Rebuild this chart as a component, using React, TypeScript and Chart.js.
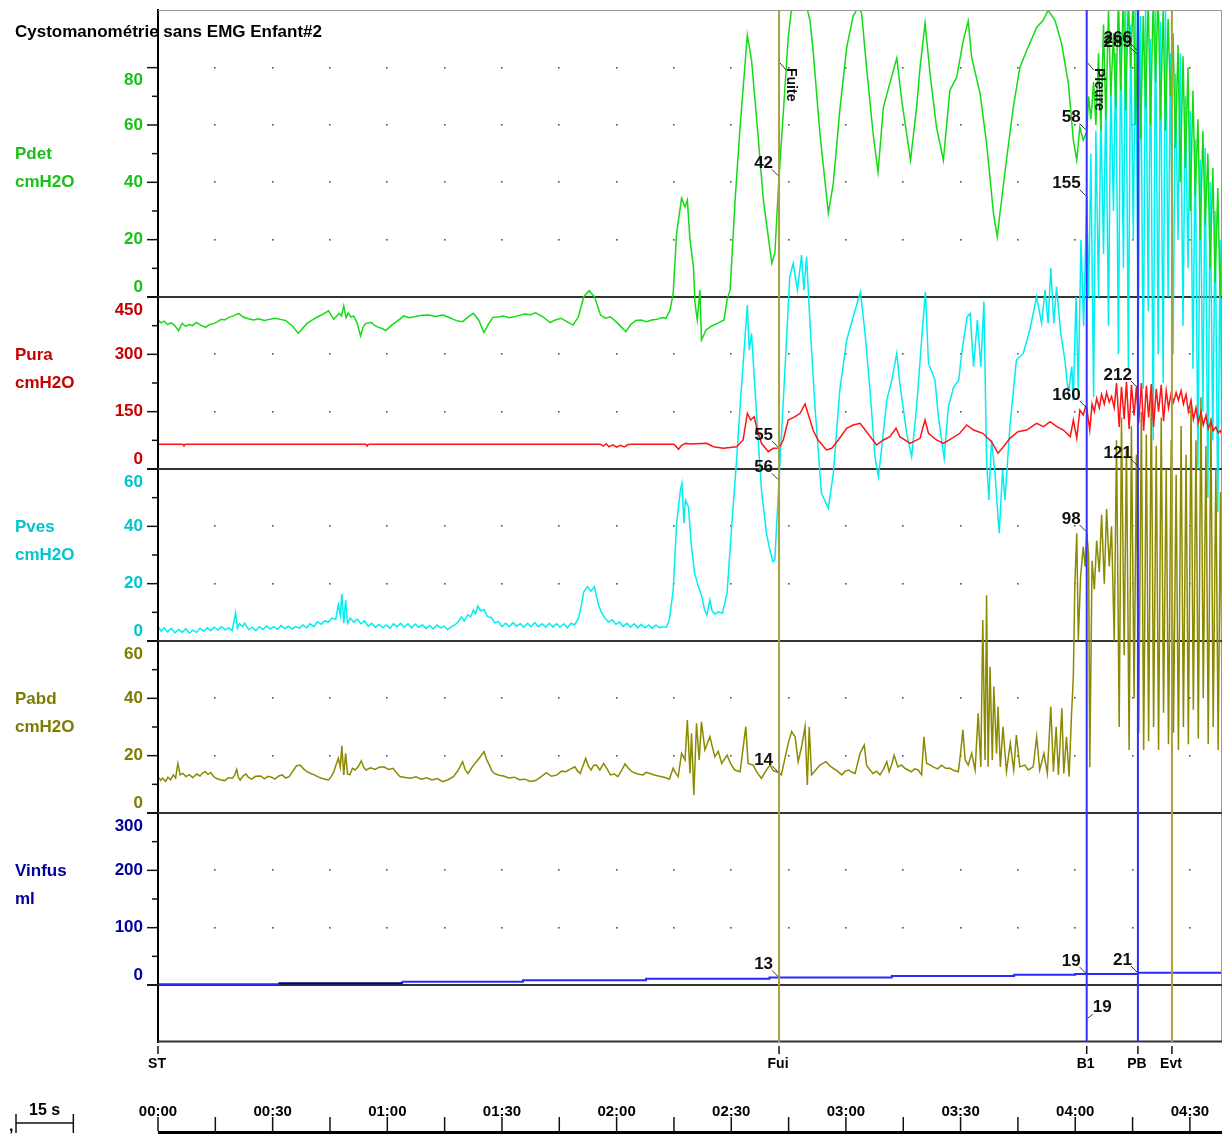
import { useEffect, useRef } from 'react';
import { Chart, registerables } from 'chart.js';

Chart.register(...registerables);

const FONT = '"Liberation Sans", Arial, Helvetica, sans-serif';

// ---------------- texts / categories ----------------
const TITLE = 'Cystomanométrie sans EMG Enfant#2';
const T_MAX = 278.4; // seconds shown

const CHANNEL_NAMES = ['Pdet', 'Pura', 'Pves', 'Pabd', 'Vinfus'];
const CHANNEL_UNITS = ['cmH2O', 'cmH2O', 'cmH2O', 'cmH2O', 'ml'];

// axis ranges
const PDET_RANGE = [0, 100.1];
const PURA_RANGE = [0, 450];
const PVES_RANGE = [0, 60];
const PABD_RANGE = [0, 60];
const VINFUS_RANGE = [0, 300];

// axis tick labels and minor ticks
const PDET_TICKS = [0, 20, 40, 60, 80];
const PDET_MINOR = [10, 30, 50, 70];
const PURA_TICKS = [0, 150, 300, 450];
const PURA_MINOR = [75, 225, 375];
const PVES_TICKS = [0, 20, 40, 60];
const PVES_MINOR = [10, 30, 50];
const PABD_TICKS = [0, 20, 40, 60];
const PABD_MINOR = [10, 30, 50];
const VINFUS_TICKS = [0, 100, 200, 300];
const VINFUS_MINOR = [50, 150, 250];

// events
const EVENT_NAMES = ['ST', 'Fui', 'B1', 'PB', 'Evt'];
const EVENT_TIMES = [0, 162.5, 243.0, 256.4, 265.3];
const EVENT_NOTES = [['Fuite', 1], ['Pleure', 2]];

// time ruler
const TIME_LABELS = ['00:00', '00:30', '01:00', '01:30', '02:00', '02:30', '03:00', '03:30', '04:00', '04:30'];
const TIME_LABEL_SECONDS = [0, 30, 60, 90, 120, 150, 180, 210, 240, 270];
const TIME_TICK_SECONDS = [0, 15, 30, 45, 60, 75, 90, 105, 120, 135, 150, 165, 180, 195, 210, 225, 240, 255, 270];
const SCALE_BAR_SECONDS = 15;
const SCALE_BAR_LABEL = '15 s';

// value read-outs at the events: [text, event index, channel index, value]
const READOUTS = [
  ['42', 1, 0, 42], ['55', 1, 1, 55], ['56', 1, 2, 56], ['14', 1, 3, 14], ['13', 1, 4, 13],
  ['58', 2, 0, 58], ['160', 2, 1, 160], ['155', 2, 2, 155], ['98', 2, 3, 98], ['19', 2, 4, 19],
  ['266', 3, 0, 266], ['289', 3, 2, 289], ['212', 3, 1, 212], ['121', 3, 3, 121], ['21', 3, 4, 21],
];
const STRIP_READOUT = ['19', 2, 0.4];

// ---------------- series: [seconds, value] ----------------
const PDET = [
  [0, -8.0], [0.8, -9.0], [1.6, -8.4], [2.5, -9.6], [3.5, -9.0], [4.4, -10.0], [5.4, -11.7], [6.3, -9.2], [7.2, -10.2],
  [8.2, -9.6], [9.1, -10.0], [10.0, -8.9], [11.2, -9.8], [12.4, -10.6], [13.5, -9.6], [14.7, -9.2], [15.6, -8.6],
  [16.6, -7.8], [17.5, -8.0], [18.5, -7.1], [19.8, -6.6], [21.1, -5.7], [22.2, -6.9], [23.6, -7.6], [25.0, -8.0],
  [26.4, -7.6], [27.8, -8.2], [29.2, -7.8], [30.6, -7.4], [32.0, -7.8], [33.4, -8.2], [35.3, -10.3], [36.7, -12.7],
  [37.8, -11.0], [39.0, -9.2], [40.4, -8.0], [41.8, -6.9], [43.2, -6.0], [44.6, -4.8], [46.0, -7.8], [47.4, -5.7],
  [48.0, -6.6], [48.6, -3.1], [49.2, -7.2], [49.8, -5.6], [50.5, -7.0], [51.2, -6.6], [52.1, -9.0], [53.0, -13.6],
  [53.7, -10.4], [54.4, -9.2], [55.8, -8.9], [56.8, -10.0], [57.7, -10.6], [58.7, -11.0], [59.6, -11.7], [61.0, -10.0],
  [62.4, -8.6], [63.4, -7.6], [64.3, -6.6], [65.7, -7.2], [67.1, -6.9], [69.0, -6.4], [70.8, -6.3], [72.6, -6.8],
  [74.5, -6.3], [75.9, -7.0], [77.3, -7.8], [78.5, -8.4], [79.7, -8.6], [81.1, -7.0], [82.5, -5.7], [83.9, -8.0],
  [85.3, -12.4], [86.5, -9.4], [87.6, -7.1], [89.0, -7.0], [90.4, -6.6], [91.8, -7.2], [93.2, -6.9], [94.6, -6.4],
  [96.0, -5.9], [97.4, -6.2], [98.8, -5.5], [100.7, -6.9], [102.6, -8.9], [104.0, -8.0], [105.4, -7.4], [107.0, -8.6],
  [108.6, -9.8], [110.0, -6.9], [111.4, 0.1], [112.8, 2.2], [114.2, 0.1], [115.8, -6.3], [117.1, -7.4], [118.4, -6.9],
  [120.3, -9.2], [121.3, -10.6], [122.4, -12.1], [123.7, -9.6], [125.0, -8.2], [126.4, -8.0], [127.8, -8.6],
  [129.2, -8.0], [130.6, -7.8], [132.0, -7.2], [132.9, -7.4], [134.0, -4.5], [134.8, 1.3], [135.7, 22.3],
  [137.0, 34.5], [137.9, 31.4], [138.5, 33.8], [139.2, 19.9], [140.1, 10.5], [140.5, -2.1], [141.1, -8.0],
  [141.8, 2.4], [142.2, -15.0], [143.4, -11.5], [144.9, -10.1], [146.5, -9.1], [148.1, -8.0], [148.9, -1.0],
  [149.7, 2.4], [151.0, 33.8], [152.3, 59.2], [154.2, 91.3], [155.3, 82.6], [156.6, 62.7], [158.4, 33.8],
  [160.6, 11.8], [161.4, 15.3], [162.5, 42], [163.6, 64], [164.9, 90.6], [165.8, 101], [167, 106], [169, 105],
  [170.6, 96.5], [171.4, 86], [173.2, 57], [175.4, 29.2], [176.7, 39.7], [178.4, 65.2], [180.2, 87.1], [181.9, 98],
  [183.2, 101], [184.1, 99], [185.4, 80.1], [187.1, 57.1], [188.4, 43.6], [189.8, 66.2], [191.5, 74.6], [193.3, 83.3],
  [194.6, 68.6], [196.9, 47.7], [198.5, 66.2], [199.4, 80.1], [200.7, 95.5], [202.0, 78], [203.7, 59.2],
  [205.5, 47.7], [207.2, 72.1], [209.0, 76.7], [210.7, 89.5], [212.0, 96.2], [212.9, 83.6], [215.1, 71],
  [216.8, 53.6], [218.6, 29.2], [219.6, 21], [220.3, 29.2], [222.0, 47.7], [223.8, 66.2], [225.5, 80.1], [227.3, 86],
  [229.9, 94], [231.6, 96.5], [232.9, 100], [234.7, 96.5], [236.4, 88.5], [238.2, 74.6], [239.5, 54.7], [240.4, 47.7],
  [241.2, 59.2], [242.1, 54.7], [243.0, 57.5],
  [243.5, 70], [244.1, 62], [244.8, 75], [245.4, 60], [246.1, 85], [246.7, 58], [247.4, 95], [248.0, 62], [248.7, 100],
  [249.3, 70], [250.0, 92], [250.6, 66], [251.3, 104], [251.9, 72], [252.6, 106], [253.2, 65], [253.9, 104],
  [254.5, 80], [255.2, 106], [255.8, 60], [256.5, 103], [257.1, 55], [257.8, 98], [258.4, 66], [259.1, 105],
  [259.7, 60], [260.4, 104], [261.0, 75], [261.7, 106], [262.3, 62], [263.0, 100], [263.6, 58], [264.3, 97],
  [264.9, 70], [265.6, 92], [266.2, 52], [266.9, 88], [267.5, 40], [268.2, 84], [268.8, 45], [269.5, 80], [270.1, 30],
  [270.8, 72], [271.4, 35], [272.1, 62], [272.7, 20], [273.4, 58], [274.0, 25], [274.7, 50], [275.3, 10], [276.0, 45],
  [276.6, 5], [277.3, 38], [277.9, 0], [278.4, 22],
];

const PURA = [
  [0, 65], [6.5, 65], [6.8, 60], [7.1, 65], [54.4, 65], [54.7, 60], [55.0, 64], [55.3, 65], [115.8, 65], [116.5, 60],
  [117.3, 66], [118.0, 58], [119.0, 63], [120.0, 57], [121.0, 62], [122.0, 58], [123.0, 64], [124.0, 65], [135.0, 65],
  [136.2, 51.5], [137.0, 62], [138.1, 67], [139.2, 65.4], [143.6, 67.2], [145.3, 58.3], [147.9, 54.1], [151.4, 58.3],
  [153.1, 75.9], [154.2, 145.7], [155.1, 128.2], [156.0, 136.8], [156.6, 110.7], [157.9, 67.2], [159.7, 45.3],
  [161.0, 54.1], [162.5, 55], [163.6, 75.9], [164.9, 128.2], [166.7, 136.8], [168.0, 145.7], [169.3, 170.1],
  [170.2, 141.3], [171.4, 102.0], [172.7, 75.9], [174.9, 49.7], [176.3, 54.1], [178.0, 75.9], [180.2, 106.5],
  [181.9, 115.1], [183.7, 119.6], [185.4, 97.6], [188.0, 62.8], [189.8, 75.9], [191.5, 84.5], [193.1, 106.5],
  [194.1, 84.5], [196.8, 67.2], [199.4, 80.3], [200.7, 128.2], [201.6, 93.4], [203.7, 75.9], [205.5, 67.2],
  [207.7, 80.3], [209.8, 93.4], [211.6, 115.1], [213.4, 102.0], [215.8, 93.4], [218.1, 71.4], [219.8, 41.1],
  [221.2, 58.3], [222.9, 80.3], [225.0, 97.6], [227.3, 102.0], [229.9, 119.6], [231.7, 110.7], [233.4, 123.8],
  [235.2, 110.7], [236.9, 102.0], [238.7, 84.5], [239.5, 128.2], [240.4, 80.3], [241.2, 154.4], [242.1, 141.3],
  [242.7, 163], [243.0, 160],
  [243.8, 102], [244.4, 170], [245.0, 150], [245.6, 185], [246.3, 160], [246.9, 195], [247.6, 170], [248.2, 200],
  [248.9, 175], [249.5, 190], [250.2, 160], [250.8, 225], [251.5, 110], [252.1, 215], [252.8, 130], [253.4, 228],
  [254.1, 105], [254.7, 220], [255.4, 140], [256.0, 215], [256.6, 120], [257.3, 225], [257.9, 100], [258.6, 218],
  [259.2, 135], [259.9, 222], [260.5, 110], [261.2, 210], [261.8, 150], [262.5, 220], [263.1, 125], [263.8, 205],
  [264.4, 160], [265.1, 198], [265.7, 175], [266.4, 200], [267.0, 180], [267.7, 205], [268.3, 170], [269.0, 195],
  [269.6, 150], [270.3, 180], [270.9, 130], [271.6, 160], [272.2, 120], [272.9, 150], [273.5, 115], [274.2, 140],
  [274.8, 105], [275.5, 125], [276.1, 100], [276.8, 110], [277.4, 95], [278.0, 100], [278.4, 88],
];

const PVES = [
  [0, 5.0], [0.9, 3.4], [1.6, 4.6], [2.5, 3.2], [3.5, 4.4], [4.4, 2.8], [5.4, 4.0], [6.3, 3.0], [7.3, 4.3], [8.2, 2.7],
  [9.1, 3.8], [10.1, 3.0], [11.0, 4.4], [12.0, 3.4], [12.9, 4.6], [13.8, 3.6], [14.7, 4.8], [15.7, 3.8], [16.6, 5.0],
  [17.6, 3.9], [18.5, 4.6], [19.4, 3.6], [20.3, 9.9], [20.8, 4.4], [21.3, 6.0], [22.2, 5.0], [22.7, 6.2], [23.7, 4.0],
  [24.6, 4.8], [25.6, 3.6], [26.5, 5.0], [27.5, 4.0], [28.4, 5.2], [29.4, 4.2], [30.3, 5.0], [31.3, 4.0], [32.2, 5.4],
  [33.2, 4.3], [34.1, 5.2], [35.1, 4.2], [36.0, 5.0], [37.0, 4.5], [37.9, 5.6], [38.9, 4.6], [39.8, 6.0], [40.8, 5.0],
  [41.7, 6.7], [42.7, 5.8], [43.6, 7.0], [44.6, 6.6], [45.5, 8.0], [46.5, 7.6], [47.2, 12.6], [47.7, 9.0], [48.1, 16.4],
  [48.6, 6.2], [49.1, 14.3], [49.6, 6.2], [50.3, 8.0], [51.2, 6.6], [52.1, 7.6], [53.1, 6.0], [54.0, 7.0], [55.0, 5.2],
  [55.9, 6.2], [56.9, 4.8], [57.8, 5.8], [58.8, 4.6], [59.7, 5.6], [60.7, 4.4], [61.6, 6.0], [62.5, 5.0], [63.5, 6.2],
  [64.4, 4.8], [65.4, 6.0], [66.3, 4.6], [67.3, 5.9], [68.2, 4.8], [69.2, 5.6], [70.1, 4.4], [71.1, 5.4], [72.0, 4.2],
  [73.0, 5.6], [73.9, 4.6], [74.9, 5.2], [75.8, 4.0], [76.8, 5.0], [77.7, 5.6], [78.6, 6.8], [79.4, 8.4], [80.1, 7.0],
  [81.1, 9.1], [81.8, 8.4], [82.5, 10.8], [83.1, 9.6], [83.7, 12.2], [84.4, 10.5], [85.3, 11.0], [86.2, 8.5],
  [87.2, 8.2], [88.1, 6.4], [89.1, 6.8], [90.0, 5.0], [91.0, 6.2], [91.9, 5.0], [92.9, 6.4], [93.8, 5.2], [94.8, 6.0],
  [95.7, 4.8], [96.7, 6.2], [97.6, 5.0], [98.6, 6.4], [99.5, 5.0], [100.5, 6.0], [101.4, 4.8], [102.4, 6.2],
  [103.3, 4.9], [104.3, 6.0], [105.2, 4.8], [106.2, 6.0], [107.1, 4.6], [108.1, 6.2], [109.0, 5.6], [110.0, 7.9],
  [110.7, 12], [111.4, 17.2], [112.4, 18.9], [113.3, 17.4], [114.2, 18.9], [114.8, 15], [115.4, 12.0], [116.2, 9.5],
  [117.0, 7.9], [117.9, 6.6], [118.9, 7.4], [119.8, 5.8], [120.8, 6.6], [121.7, 5.0], [122.7, 6.2], [123.6, 4.8],
  [124.6, 6.0], [125.5, 4.6], [126.5, 5.8], [127.4, 4.6], [128.4, 5.6], [129.3, 4.4], [130.3, 5.6], [131.2, 4.6],
  [132.0, 5.0], [133.0, 4.8], [133.8, 7.3], [134.8, 17.8], [135.7, 41.1], [136.7, 52.7], [137.1, 55.0], [137.6, 41.1],
  [138.0, 49.2], [138.8, 46.8], [139.5, 34.1], [140.4, 23.6], [141.4, 19.0], [142.3, 15.5], [143.0, 11], [143.6, 9.1],
  [144.4, 14.3], [145.0, 10.5], [145.7, 9.4], [146.7, 10.2], [147.7, 9.7], [148.9, 16.7], [150.1, 39.9],
  [151.4, 63.1], [152.3, 81.7], [154.2, 117.2], [154.7, 101.5], [155.3, 107.3], [156.6, 79.4], [157.9, 52.7],
  [159.2, 37.6], [160.1, 31.7], [160.9, 27.7], [161.4, 28.3], [162.5, 56.2], [164.0, 93.4], [165.3, 127.1],
  [166.2, 131.7], [167.3, 122.4], [168.4, 134.6], [169.0, 122.4], [169.7, 134.0], [170.6, 110.8], [171.9, 81.7],
  [173.6, 51.5], [175.4, 46.3], [176.7, 58.5], [178.4, 87.5], [180.2, 105.0], [181.9, 113.1], [183.8, 121.8],
  [185.0, 107.3], [186.3, 87.5], [187.6, 64.3], [188.5, 57.3], [189.4, 67.8], [190.7, 84.1], [192.0, 91.0],
  [193.3, 100.3], [194.1, 89.9], [195.9, 72.4], [197.2, 64.3], [198.5, 81.7], [199.8, 105.0], [200.8, 121.8],
  [201.6, 96.9], [203.3, 91.0], [204.2, 78.2], [205.7, 63.7], [206.8, 81.7], [208.2, 88.7], [209.5, 91.0],
  [210.4, 101.5], [211.7, 113.1], [212.5, 114.3], [213.4, 95.7], [214.4, 112.0], [215.3, 95.7], [216.1, 118.4],
  [216.8, 63.1], [217.4, 49.2], [218.1, 70.1], [219.0, 58.5], [220.1, 37.6], [221.0, 59.6], [221.6, 49.2],
  [222.9, 74.7], [224.6, 98.0], [226.4, 100.3], [228.1, 108.5], [229.9, 120.1], [231.2, 110.8], [232.1, 122.4],
  [232.9, 110.8], [233.6, 130.0], [234.4, 110.8], [235.1, 123.6], [236.2, 107.3], [237.3, 98.0], [238.2, 86.4],
  [239.1, 95.7], [239.5, 84], [240.2, 120], [240.8, 88], [241.5, 140], [242.2, 110], [243.0, 155],
  [243.5, 120], [244.1, 170], [244.8, 85], [245.4, 178], [246.1, 120], [246.7, 185], [247.4, 135], [248.0, 190],
  [248.7, 110], [249.3, 195], [250.0, 150], [250.6, 205], [251.3, 100], [251.9, 212], [252.6, 130], [253.2, 222],
  [253.9, 95], [254.5, 215], [255.2, 140], [255.8, 224], [256.5, 105], [257.1, 218], [257.8, 88], [258.4, 223],
  [259.1, 115], [259.7, 210], [260.4, 70], [261.0, 222], [261.7, 100], [262.3, 216], [263.0, 90], [263.6, 224],
  [264.3, 120], [264.9, 205], [265.6, 100], [266.2, 198], [266.9, 140], [267.5, 205], [268.2, 110], [268.8, 190],
  [269.5, 130], [270.1, 185], [270.8, 95], [271.4, 175], [272.1, 60], [272.7, 168], [273.4, 80], [274.0, 172],
  [274.7, 50], [275.3, 160], [276.0, 70], [276.6, 150], [277.3, 45], [277.9, 140], [278.4, 60],
];

const PABD = [
  [0, 12.7], [0.7, 11.4], [1.2, 12.2], [2.0, 11.0], [2.6, 12.5], [3.3, 11.6], [4.0, 13.3], [4.6, 12.2], [5.2, 17.3],
  [5.8, 13.3], [6.5, 13.8], [7.3, 12.7], [8.2, 13.4], [9.1, 12.3], [10.1, 13.6], [11.0, 12.9], [11.7, 14.0],
  [12.4, 14.4], [13.1, 13.5], [13.8, 14.1], [14.5, 12.8], [15.2, 12.1], [16.3, 11.6], [17.5, 11.3], [18.4, 12.3],
  [19.4, 12.1], [20.0, 13.0], [20.6, 15.2], [21.0, 12.6], [21.5, 11.5], [22.3, 13.0], [23.0, 13.6], [23.7, 12.4],
  [24.5, 11.8], [25.5, 12.8], [26.9, 12.9], [27.8, 11.9], [28.8, 12.8], [29.7, 12.5], [30.6, 11.8], [31.6, 12.9],
  [32.5, 13.3], [33.4, 12.2], [34.3, 12.7], [35.3, 14.6], [36.2, 16.4], [37.2, 16.7], [38.1, 15.4], [39.0, 14.4],
  [40.0, 13.8], [40.9, 13.3], [41.9, 12.6], [42.8, 12.1], [43.7, 11.8], [44.6, 11.5], [45.3, 12.6], [46.0, 14.4],
  [46.6, 16.8], [47.2, 19.1], [47.7, 16.0], [48.1, 23.4], [48.6, 13.3], [49.1, 20.8], [49.6, 13.6], [50.2, 13.3],
  [50.9, 15.6], [51.6, 15.0], [52.4, 16.2], [53.2, 18.2], [53.8, 16.0], [54.4, 15.0], [55.6, 15.8], [56.8, 15.2],
  [57.9, 16.0], [59.1, 16.1], [60.3, 15.2], [61.5, 15.6], [62.4, 14.0], [63.3, 12.7], [64.7, 12.4], [66.1, 12.1],
  [67.5, 12.6], [68.9, 11.8], [70.3, 12.3], [71.7, 11.5], [73.1, 12.0], [74.5, 10.9], [75.9, 11.6], [77.3, 12.7],
  [78.5, 14.8], [79.7, 17.9], [80.4, 15.0], [81.1, 13.8], [82.0, 15.6], [82.9, 17.3], [84.1, 19.2], [85.3, 21.4],
  [86.0, 18.6], [86.7, 16.7], [87.3, 14.8], [88.0, 13.8], [89.2, 13.2], [90.4, 12.9], [91.8, 12.2], [93.2, 12.5],
  [94.6, 11.6], [96.0, 11.8], [97.4, 11.0], [98.8, 11.3], [100.2, 12.6], [101.6, 14.1], [103.0, 12.8], [104.4, 13.3],
  [105.6, 14.6], [106.7, 14.4], [107.9, 15.3], [109.1, 16.1], [109.8, 14.6], [110.5, 13.8], [111.2, 16.5],
  [111.9, 19.1], [112.6, 16.4], [113.3, 15.0], [114.0, 16.6], [114.7, 16.7], [115.6, 15.0], [116.6, 17.3],
  [117.5, 15.4], [118.4, 13.3], [119.4, 13.6], [120.3, 12.7], [121.2, 14.6], [122.2, 17.1], [123.1, 15.6],
  [124.0, 14.4], [125.5, 13.6], [126.9, 13.3], [127.8, 14.2], [128.7, 13.8], [130.1, 13.2], [131.5, 12.7],
  [132.7, 12.4], [133.8, 11.8], [134.8, 15.6], [135.4, 14.0], [136.1, 12.7], [137.0, 20.8], [137.9, 18.5],
  [138.5, 32.4], [139.2, 13.8], [139.6, 27.8], [140.2, 6.3], [140.9, 31.3], [141.6, 18.5], [142.2, 31.8],
  [143.1, 22.0], [144.4, 26.6], [145.7, 19.6], [146.6, 21.5], [147.5, 17.3], [148.9, 20.2], [149.9, 17.0],
  [150.9, 15.0], [152.3, 14.4], [153.8, 30.1], [154.4, 17.3], [155.7, 16.7], [156.8, 14.0], [157.9, 12.1],
  [159.0, 14.6], [160.1, 16.7], [161.0, 14.8], [161.8, 14.4], [162.5, 14], [163.1, 13.3], [164.2, 20.0],
  [164.9, 24.3], [165.8, 28.4], [166.7, 26.6], [167.5, 17.9], [168.4, 23.1], [169.3, 30.1], [169.9, 9.8],
  [170.4, 30.1], [171.0, 13.3], [172.1, 15.0], [173.2, 16.7], [174.8, 17.9], [175.8, 16.4], [176.7, 15.6],
  [177.8, 14.6], [178.9, 13.3], [179.8, 14.6], [180.7, 15.0], [181.6, 14.2], [182.4, 13.8], [183.7, 20.8],
  [184.8, 23.7], [185.4, 16.7], [186.3, 15.0], [187.1, 13.8], [188.0, 14.6], [188.9, 13.3], [189.8, 15.2],
  [190.7, 17.9], [191.3, 14.4], [192.0, 17.0], [192.6, 20.2], [193.6, 16.1], [194.5, 16.8], [195.4, 15.6],
  [196.3, 15.0], [197.1, 14.4], [198.0, 15.4], [198.9, 15.0], [199.8, 13.3], [200.4, 26.6], [201.1, 17.3],
  [202.0, 16.8], [202.8, 16.1], [204.0, 15.4], [205.0, 16.7], [206.1, 15.6], [207.2, 15.6], [208.3, 14.8],
  [209.4, 14.4], [210.0, 20.8], [210.6, 29.0], [211.2, 18.5], [212.0, 16.7], [212.9, 20.8], [213.8, 15.0],
  [214.6, 34.8], [215.3, 16.1], [215.8, 67.3], [216.4, 18.5], [216.8, 76.0], [217.2, 16.1], [217.7, 51.0],
  [218.3, 18.5], [218.7, 44.1], [219.4, 20.8], [219.8, 37.1], [220.4, 16.1], [221.1, 30.1], [222.0, 14.4],
  [223.0, 24.3], [223.9, 15.0], [224.6, 27.2], [225.5, 16.1], [226.8, 16.7], [227.7, 15.0], [229.0, 16.1],
  [229.9, 26.6], [230.7, 15.0], [231.8, 20.8], [232.7, 13.8], [233.6, 37.1], [234.3, 14.4], [235.0, 30.1],
  [235.6, 13.3], [236.5, 36.5], [237.0, 13.8], [237.7, 26.6], [238.4, 12.7], [239.0, 33.6], [239.5, 47.5],
  [239.9, 80.1], [240.4, 97.6], [240.8, 60.3], [241.4, 82.5], [242.1, 92.9], [242.6, 85.9], [243.0, 98.1],
  [243.5, 90], [243.8, 16], [244.4, 88], [245.0, 78], [245.6, 95], [246.3, 84], [246.9, 104], [247.6, 80],
  [248.2, 106], [248.9, 86], [249.5, 100], [250.2, 60], [250.8, 130], [251.5, 30], [252.1, 138], [252.8, 55],
  [253.4, 128], [254.1, 22], [254.7, 135], [255.4, 40], [256.0, 125], [256.6, 28], [257.3, 140], [257.9, 22],
  [258.6, 132], [259.2, 25], [259.9, 145], [260.5, 30], [261.2, 128], [261.8, 22], [262.5, 138], [263.1, 35],
  [263.8, 120], [264.4, 24], [265.1, 130], [265.7, 28], [266.4, 118], [267.0, 22], [267.7, 135], [268.3, 30],
  [269.0, 125], [269.6, 24], [270.3, 142], [270.9, 36], [271.6, 130], [272.2, 26], [272.9, 145], [273.5, 40],
  [274.2, 128], [274.8, 24], [275.5, 138], [276.1, 30], [276.8, 120], [277.4, 22], [278.0, 112], [278.4, 35],
];

// infused volume, value held from each time onward
const VINFUS = [
  [0, 1.2], [31.5, 3.0], [63.8, 5.8], [95.5, 8.1], [127.7, 11], [160, 13], [192, 15.5], [224, 18], [240, 19],
  [256.4, 21.5], [278.4, 21.5],
];

// ---------------- styles ----------------
const PANELS = [
  { axis: 'yDet', range: PDET_RANGE, ticks: PDET_TICKS, minor: PDET_MINOR, weightPx: 287, label: '#18c018', trace: '#14dc14', nameAt: 50 },
  { axis: 'yUra', range: PURA_RANGE, ticks: PURA_TICKS, minor: PURA_MINOR, weightPx: 172, label: '#c80000', trace: '#ff1414', nameAt: 300 },
  { axis: 'yVes', range: PVES_RANGE, ticks: PVES_TICKS, minor: PVES_MINOR, weightPx: 172, label: '#00c4d0', trace: '#00eef0', nameAt: 40 },
  { axis: 'yAbd', range: PABD_RANGE, ticks: PABD_TICKS, minor: PABD_MINOR, weightPx: 172, label: '#7c7c00', trace: '#8c8a00', nameAt: 40 },
  { axis: 'yVin', range: VINFUS_RANGE, ticks: VINFUS_TICKS, minor: VINFUS_MINOR, weightPx: 172, label: '#00009a', trace: '#2a2aff', nameAt: 200 },
];
const EVENT_COLORS = [null, '#a8a040', '#3030ff', '#3030ff', '#a8a040'];

function seg(ctx: CanvasRenderingContext2D, x1: number, y1: number, x2: number, y2: number) {
  ctx.beginPath();
  ctx.moveTo(x1, y1);
  ctx.lineTo(x2, y2);
  ctx.stroke();
}

const recorderPlugin = {
  id: 'recorder',
  beforeDatasetsDraw(chart: any) {
    const { ctx, chartArea: a, scales } = chart;
    const xs = scales.x;
    ctx.save();
    // dotted grid
    ctx.fillStyle = '#555';
    for (const t of TIME_TICK_SECONDS) {
      if (t === 0) continue;
      const x = Math.round(xs.getPixelForValue(t));
      PANELS.forEach((p) => {
        p.ticks.forEach((v) => {
          if (v === p.range[0] || v >= p.range[1] - 1) return;
          const y = Math.round(scales[p.axis].getPixelForValue(v));
          ctx.fillRect(x - 1, y - 1, 1.6, 1.6);
        });
      });
    }
    // frame
    ctx.strokeStyle = '#999';
    ctx.lineWidth = 1;
    seg(ctx, a.left, a.top + 0.5, a.right, a.top + 0.5);
    seg(ctx, a.right - 0.5, a.top, a.right - 0.5, a.bottom);
    // panel separators (extend over the 0 tick)
    ctx.strokeStyle = '#333';
    ctx.lineWidth = 2;
    PANELS.forEach((p) => {
      const y = scales[p.axis].getPixelForValue(p.range[0]);
      seg(ctx, a.left - 11, y, a.left + 1, y);
      seg(ctx, a.left, y, a.right, y);
    });
    seg(ctx, a.left, a.bottom - 0.5, a.right, a.bottom - 0.5);
    ctx.restore();
    // traces overflow their own panel but stay inside the recording area
    ctx.save();
    ctx.beginPath();
    ctx.rect(a.left + 1, a.top + 1, a.right - a.left - 2, a.bottom - a.top - 2);
    ctx.clip();
  },
  afterDatasetsDraw(chart: any) {
    const { ctx, chartArea: a, scales } = chart;
    ctx.restore();
    const xs = scales.x;
    ctx.save();
    // event lines
    EVENT_TIMES.forEach((t, i) => {
      const c = EVENT_COLORS[i];
      if (!c) return;
      const x = xs.getPixelForValue(t);
      ctx.strokeStyle = c;
      ctx.lineWidth = 2;
      seg(ctx, x, a.top, x, a.bottom);
    });
    // read-outs
    ctx.font = `bold 17px ${FONT}`;
    ctx.textBaseline = 'middle';
    ctx.textAlign = 'right';
    const clampCount: Record<number, number> = {};
    READOUTS.forEach(([text, ev, ch, val]: any) => {
      const x = xs.getPixelForValue(EVENT_TIMES[ev]);
      let y = scales[PANELS[ch].axis].getPixelForValue(val);
      if (y < a.top + 40) {
        const k = clampCount[ev] || 0;
        clampCount[ev] = k + 1;
        y = a.top + 41 + k * 4;
      }
      ctx.fillStyle = '#111';
      ctx.fillText(text, x - 6, y - 13);
      ctx.strokeStyle = '#333';
      ctx.lineWidth = 1;
      seg(ctx, x - 7, y - 7, x - 1, y - 1);
    });
    {
      const [text, ev, val]: any = STRIP_READOUT;
      const x = xs.getPixelForValue(EVENT_TIMES[ev]);
      const y = scales.yEvt.getPixelForValue(val);
      ctx.textAlign = 'left';
      ctx.fillText(text, x + 6, y - 12);
      seg(ctx, x + 1, y - 1, x + 6, y - 5);
    }
    // vertical notes
    ctx.font = `bold 14px ${FONT}`;
    EVENT_NOTES.forEach(([text, ev]: any) => {
      const x = xs.getPixelForValue(EVENT_TIMES[ev]);
      ctx.strokeStyle = '#333';
      ctx.lineWidth = 1;
      seg(ctx, x + 1, a.top + 53, x + 7, a.top + 60);
      ctx.save();
      ctx.translate(x + 12, a.top + 58);
      ctx.rotate(Math.PI / 2);
      ctx.textAlign = 'left';
      ctx.textBaseline = 'middle';
      ctx.fillStyle = '#111';
      ctx.fillText(text, 0, 0);
      ctx.restore();
    });
    ctx.restore();
  },
  afterDraw(chart: any) {
    const { ctx, chartArea: a, scales } = chart;
    const xs = scales.x;
    ctx.save();
    // y ticks, labels and channel names
    PANELS.forEach((p, i) => {
      const s = scales[p.axis];
      ctx.strokeStyle = '#111';
      ctx.lineWidth = 1.5;
      p.minor.forEach((v) => {
        const y = s.getPixelForValue(v);
        seg(ctx, a.left - 6, y, a.left, y);
      });
      p.ticks.forEach((v) => {
        const y = s.getPixelForValue(v);
        seg(ctx, a.left - 11, y, a.left, y);
      });
      ctx.fillStyle = p.label;
      ctx.font = `bold 17px ${FONT}`;
      ctx.textAlign = 'right';
      ctx.textBaseline = 'middle';
      const top = p.ticks[p.ticks.length - 1];
      p.ticks.forEach((v) => {
        let y = s.getPixelForValue(v);
        if (v === top) y += 13;
        else if (v === p.range[0]) y -= 10;
        ctx.fillText(String(v), 143, y);
      });
      ctx.textAlign = 'left';
      const ny = s.getPixelForValue(p.nameAt) + 1;
      ctx.fillText(CHANNEL_NAMES[i], 15, ny);
      ctx.fillText(CHANNEL_UNITS[i], 15, ny + 28);
    });
    // title
    ctx.fillStyle = '#000';
    ctx.font = `bold 17px ${FONT}`;
    ctx.textAlign = 'left';
    ctx.textBaseline = 'middle';
    ctx.fillText(TITLE, 15, 32);
    // event ticks and names
    ctx.strokeStyle = '#111';
    ctx.lineWidth = 1.5;
    ctx.font = `bold 14px ${FONT}`;
    ctx.textAlign = 'center';
    EVENT_TIMES.forEach((t, i) => {
      const x = xs.getPixelForValue(t);
      seg(ctx, x, a.bottom + 4, x, a.bottom + 12);
      ctx.fillText(EVENT_NAMES[i], x - 1, a.bottom + 22);
    });
    // time ruler
    const rulerY = 1131;
    ctx.fillStyle = '#000';
    ctx.fillRect(a.left, rulerY, a.right - a.left, 3);
    TIME_TICK_SECONDS.forEach((t) => {
      const x = xs.getPixelForValue(t);
      seg(ctx, x, rulerY - 14, x, rulerY);
    });
    ctx.font = `bold 15px ${FONT}`;
    TIME_LABEL_SECONDS.forEach((t, i) => {
      ctx.fillText(TIME_LABELS[i], xs.getPixelForValue(t), 1112);
    });
    // 15 s scale bar
    const w = xs.getPixelForValue(SCALE_BAR_SECONDS) - xs.getPixelForValue(0);
    const bx = 16;
    seg(ctx, bx, 1123, bx + w, 1123);
    seg(ctx, bx, 1114, bx, 1133);
    seg(ctx, bx + w, 1114, bx + w, 1133);
    ctx.font = `bold 16px ${FONT}`;
    ctx.fillText(SCALE_BAR_LABEL, bx + w / 2, 1111);
    ctx.textAlign = 'left';
    ctx.fillText(',', 9, 1127);
    ctx.restore();
  },
};

export default function App() {
  const ref = useRef<HTMLCanvasElement | null>(null);
  useEffect(() => {
    if (!ref.current) return;
    const pts = (arr: number[][]) => arr.map(([x, y]) => ({ x, y }));
    const yAxis = (p: any, weight: number) => ({
      type: 'linear',
      position: 'left',
      stack: 'panels',
      stackWeight: p.weightPx,
      weight,
      min: p.range[0],
      max: p.range[1],
      afterFit: (s: any) => { s.width = 158; },
      ticks: { display: false },
      grid: { display: false, drawTicks: false },
      border: { display: true, color: '#000', width: 2 },
    });
    const scales: any = {
      x: {
        type: 'linear', position: 'bottom', min: 0, max: T_MAX,
        afterFit: (s: any) => { s.height = 94; },
        ticks: { display: false }, grid: { display: false }, border: { display: false },
      },
      yEvt: {
        type: 'linear', position: 'left', stack: 'panels', stackWeight: 57, weight: 1, min: 0, max: 1,
        afterFit: (s: any) => { s.width = 158; },
        ticks: { display: false }, grid: { display: false, drawTicks: false },
        border: { display: true, color: '#000', width: 2 },
      },
    };
    PANELS.forEach((p, i) => { scales[p.axis] = yAxis(p, 10 - i); });
    const line = (data: number[][], p: any, extra: any = {}) => ({
      data: pts(data), yAxisID: p.axis, borderColor: p.trace, borderWidth: 1.5,
      pointRadius: 0, tension: 0, fill: false, clip: false, ...extra,
    });
    const chart = new Chart(ref.current, {
      type: 'line',
      data: {
        datasets: [
          line(PURA, PANELS[1]),
          line(PDET, PANELS[0]),
          line(PVES, PANELS[2]),
          line(PABD, PANELS[3]),
          line(VINFUS, PANELS[4], {
            stepped: true, borderWidth: 2,
            segment: { borderColor: (c: any) => (c.p0.parsed.x >= 31 && c.p0.parsed.x < 63 ? '#000080' : '#2a2aff') },
          }),
        ],
      } as any,
      options: {
        animation: false,
        responsive: false,
        devicePixelRatio: 1,
        events: [],
        parsing: false as any,
        normalized: true,
        layout: { padding: { top: 10, right: 2, left: 0, bottom: 0 } },
        plugins: { legend: { display: false }, tooltip: { enabled: false }, title: { display: false } },
        scales,
      } as any,
      plugins: [recorderPlugin],
    });
    return () => chart.destroy();
  }, []);
  return (
    <div style={{ position: 'absolute', left: 0, top: 0, width: 1224, height: 1136, background: '#fff' }}>
      <canvas ref={ref} width={1224} height={1136} style={{ display: 'block' }} />
    </div>
  );
}
